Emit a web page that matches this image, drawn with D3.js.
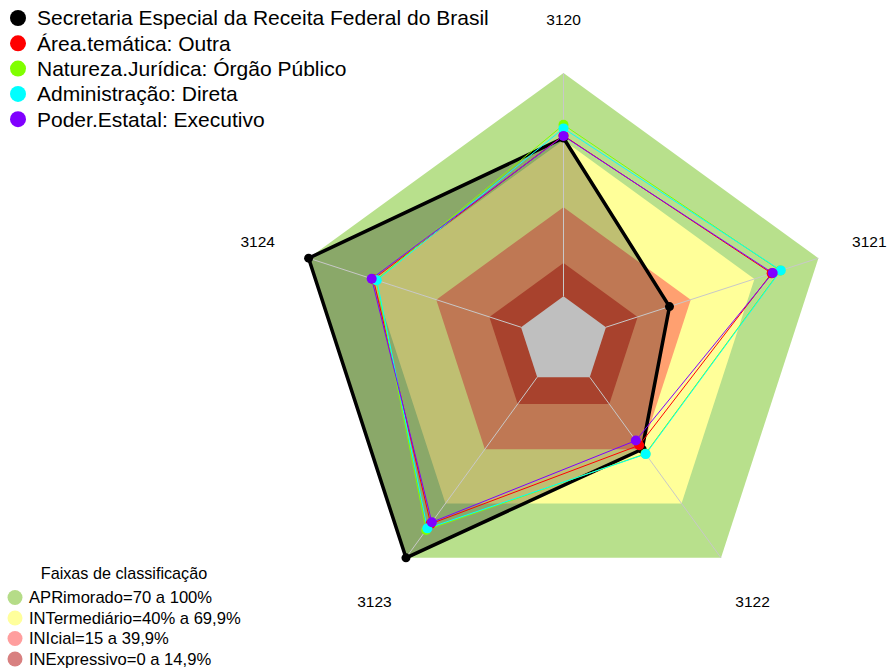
<!DOCTYPE html>
<html>
<head>
<meta charset="utf-8">
<script src="https://cdn.jsdelivr.net/npm/d3@7"></script>
<style>
	body { margin: 0; background: #fff; }
	svg { display: block; font-family: "Liberation Sans", Arial, sans-serif; }
</style>
</head>
<body>
<div id="chart_radar"></div>
<script>

//////// DATA ////////
var axes = ["3120", "3121", "3122", "3123", "3124"];

var seriesNames = [
	"Secretaria Especial da Receita Federal do Brasil",
	"Área.temática: Outra",
	"Natureza.Jurídica: Órgão Público",
	"Administração: Direta",
	"Poder.Estatal: Executivo"
];
var seriesColors = ["#000000", "#ff0000", "#80ff00", "#00ffff", "#8000ff"];

var secretaria    = [70.9, 29.9, 39.9, 100, 100];
var areaTematica  = [72.0, 78.0, 37.7, 81.2, 69.5];
var natureza      = [76.8, 82.0, 42.4, 84.6, 68.2];
var administracao = [75.2, 82.3, 42.6, 83.7, 67.9];
var poderEstatal  = [71.8, 78.5, 35.1, 80.3, 70.3];

var bandLimits = [100, 69.9, 39.9, 14.9, 0];
var bandFills = ["#b8e08c", "#ffff99", "#ffa070", "#e0583c", "#ffffff"];
var bandLabels = [
	"APRimorado=70 a 100%",
	"INTermediário=40% a 69,9%",
	"INIcial=15 a 39,9%",
	"INExpressivo=0 a 14,9%"
];
var bandLegendColors = ["#b5dc88", "#ffff9c", "#ff9e9e", "#d88080"];

//////// CANVAS ////////
var width = 889, height = 670;
var cx = 563.5, cy = 341, R = 268;

var svg = d3.select("#chart_radar").append("svg")
	.attr("width", width)
	.attr("height", height);

var rScale = d3.scaleLinear().domain([0, 100]).range([R / 6, R]);
var angle = function(i) { return i * 2 * Math.PI / axes.length; };

var radial = d3.lineRadial()
	.angle(function(d, i) { return angle(i); })
	.radius(function(d) { return rScale(d); })
	.curve(d3.curveLinearClosed);

var g = svg.append("g").attr("transform", "translate(" + cx + "," + cy + ")");

// Bands
g.selectAll(".band")
	.data(bandLimits).enter().append("path")
	.attr("class", "band")
	.attr("d", function(v) { return radial(axes.map(function() { return v; })); })
	.style("fill", function(d, i) { return bandFills[i]; });

// Main series fill
g.append("path")
	.attr("d", radial(secretaria))
	.style("fill", "rgba(0,0,0,0.25)");

// Axis lines
function pt(i, v) {
	var a = angle(i) - Math.PI / 2;
	return [rScale(v) * Math.cos(a), rScale(v) * Math.sin(a)];
}
g.selectAll(".axis")
	.data(axes).enter().append("line")
	.attr("x1", function(d, i) { return pt(i, 0)[0]; })
	.attr("y1", function(d, i) { return pt(i, 0)[1]; })
	.attr("x2", function(d, i) { return pt(i, 100)[0]; })
	.attr("y2", function(d, i) { return pt(i, 100)[1]; })
	.style("stroke", "#c8c8c8")
	.style("stroke-width", 1);

// Series lines and points
var allSeries = [secretaria, areaTematica, natureza, administracao, poderEstatal];

allSeries.forEach(function(s, k) {
	g.append("path")
		.attr("d", radial(s))
		.style("fill", "none")
		.style("stroke", seriesColors[k])
		.style("stroke-width", k === 0 ? 3.5 : 1)
		.style("stroke-linejoin", "round");
});
allSeries.forEach(function(s, k) {
	g.selectAll(".pt" + k)
		.data(s).enter().append("circle")
		.attr("cx", function(d, i) { return pt(i, d)[0]; })
		.attr("cy", function(d, i) { return pt(i, d)[1]; })
		.attr("r", k === 0 ? 4.5 : 5)
		.style("fill", seriesColors[k]);
});

// Axis labels
g.selectAll(".lab")
	.data(axes).enter().append("text")
	.attr("x", function(d, i) { var a = angle(i) - Math.PI / 2; return 1.2 * R * Math.cos(a); })
	.attr("y", function(d, i) { var a = angle(i) - Math.PI / 2; return 1.2 * R * Math.sin(a); })
	.attr("text-anchor", "middle")
	.attr("dy", "0.35em")
	.style("font-size", "15.5px")
	.text(function(d) { return d; });

//////// LEGENDS ////////
var leg = svg.append("g");
seriesNames.forEach(function(name, k) {
	var y = 18 + k * 25.3;
	leg.append("circle").attr("cx", 18).attr("cy", y).attr("r", 8).style("fill", seriesColors[k]);
	leg.append("text").attr("x", 37).attr("y", y).attr("dy", "0.35em")
		.style("font-size", "21px").text(name);
});

var leg2 = svg.append("g");
leg2.append("text").attr("x", 124).attr("y", 573).attr("dy", "0.35em")
	.attr("text-anchor", "middle").style("font-size", "16.2px").text("Faixas de classificação");
bandLabels.forEach(function(name, k) {
	var y = 597.5 + k * 20.5;
	leg2.append("circle").attr("cx", 15).attr("cy", y).attr("r", 7.5).style("fill", bandLegendColors[k]);
	leg2.append("text").attr("x", 29).attr("y", y).attr("dy", "0.35em")
		.style("font-size", "16.6px").text(name);
});

</script>
</body>
</html>
